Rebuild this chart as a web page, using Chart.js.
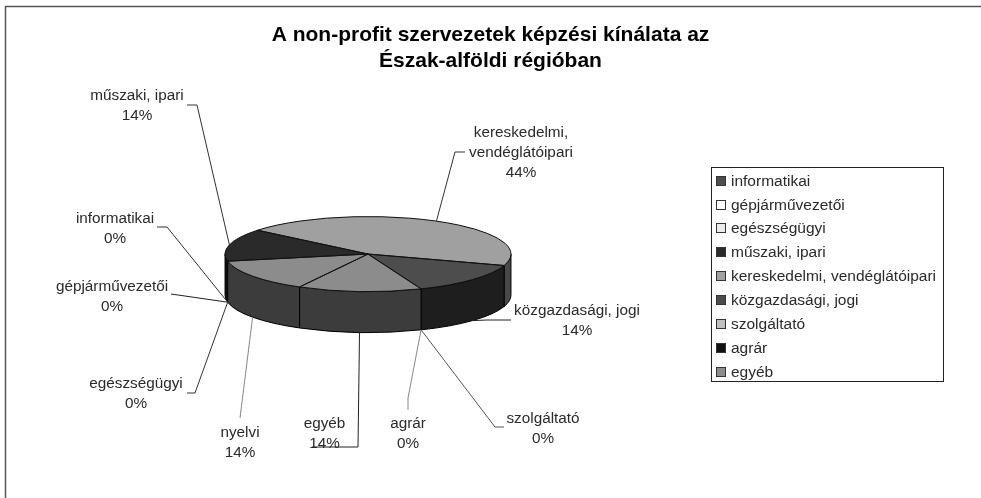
<!DOCTYPE html>
<html><head><meta charset="utf-8">
<style>html,body{margin:0;padding:0;background:#fff}#w{position:relative;width:981px;height:498px}canvas{display:block}</style>
<script src="https://cdn.jsdelivr.net/npm/chart.js@4"></script></head>
<body><div id="w"><canvas id="c" width="981" height="498"></canvas></div>
<script>
const titleLines = ["A non-profit szervezetek képzési kínálata az", "Észak-alföldi régióban"];
const categories = ["informatikai","gépjárművezetői","egészségügyi","műszaki, ipari","kereskedelmi, vendéglátóipari","közgazdasági, jogi","szolgáltató","agrár","egyéb","nyelvi"];
const values = [0,0,0,14,44,14,0,0,14,14];
const topColors = ["#4d4d4d","#fbfbfb","#ececec","#2a2a2a","#a0a0a0","#4d4d4d","#c0c0c0","#111111","#8c8c8c","#8c8c8c"];
const sideColors = ["#222222","#6a6a6a","#626262","#111111","#484848","#1e1e1e","#484848","#080808","#3c3c3c","#3c3c3c"];
const legendCount = 9; // the reference legend stops before "nyelvi"

// label placement: text centre, first-line baseline, leader path from text to the rim
const labelLayout = [
 {lines:["informatikai"],x:115,y:223,color:'#333',path:[[157,227],[167,227]]},
 {lines:["gépjárművezetői"],x:112,y:290.5,color:'#222',path:[[171,294]]},
 {lines:["egészségügyi"],x:136,y:388,color:'#333',path:[[187,393],[195,393]]},
 {lines:["műszaki, ipari"],x:137,y:100,color:'#333',path:[[187,105],[197,105]]},
 {lines:["kereskedelmi,","vendéglátóipari"],x:521,y:137,color:'#333',path:[[465,152],[455,152]]},
 {lines:["közgazdasági, jogi"],x:577,y:315,color:'#222',path:[[511,320],[487,320]]},
 {lines:["szolgáltató"],x:543,y:423,color:'#555',path:[[504,427],[495,427]]},
 {lines:["agrár"],x:408,y:428,color:'#888',path:[[408,410],[408,398]]},
 {lines:["egyéb"],x:324.5,y:428,color:'#222',path:[[312,447],[358,447]]},
 {lines:["nyelvi"],x:240,y:436.5,color:'#888',path:[[240,418]]}
];
const DEPTH = 41, SQUASH = 37.5/143;
const LABEL_FONT = '15.3px "Liberation Sans", Arial, sans-serif';
const LEGEND_FONT = '15.5px "Liberation Sans", Arial, sans-serif';
const TEXT_COLOR = '#2a2a2a';

const pie3d = {
 id:'pie3d',
 afterLayout(chart){ const t=chart.titleBlock; t.left=0; t.right=chart.width; },
 beforeDraw(chart){
  const {ctx,width,height}=chart;
  ctx.save(); ctx.fillStyle='#fff'; ctx.fillRect(0,0,width,height);
  ctx.strokeStyle='#555'; ctx.lineWidth=1.5; ctx.beginPath();
  ctx.moveTo(981,6.5); ctx.lineTo(5.5,6.5); ctx.lineTo(5.5,498); ctx.stroke();
  ctx.restore();
 },
 beforeDatasetsDraw(chart){
  const {ctx}=chart, arcs=chart.getDatasetMeta(0).data;
  const a0=arcs[0], cx=a0.x, cy=a0.y, r=a0.outerRadius, ry=r*SQUASH;
  // side wall: the visible front half of each slice, lowered by the depth
  arcs.forEach((arc,i)=>{
   if(arc.circumference<=0) return;
   [[arc.startAngle,arc.endAngle],[arc.startAngle-2*Math.PI,arc.endAngle-2*Math.PI],[arc.startAngle+2*Math.PI,arc.endAngle+2*Math.PI]].forEach(([s,e])=>{
    const a=Math.max(s,0), b=Math.min(e,Math.PI);
    if(b<=a) return;
    ctx.save(); ctx.beginPath();
    ctx.ellipse(cx,cy,r,ry,0,a,b);
    ctx.lineTo(cx+r*Math.cos(b),cy+ry*Math.sin(b)+DEPTH);
    ctx.ellipse(cx,cy+DEPTH,r,ry,0,b,a,true);
    ctx.closePath();
    ctx.fillStyle=sideColors[i]; ctx.fill();
    ctx.strokeStyle='#000'; ctx.lineWidth=1; ctx.stroke(); ctx.restore();
   });
  });
  ctx.save();
  ctx.translate(0,cy); ctx.scale(1,SQUASH); ctx.translate(0,-cy);
 },
 afterDatasetsDraw(chart){
  const {ctx}=chart, arcs=chart.getDatasetMeta(0).data;
  ctx.restore();
  const a0=arcs[0], cx=a0.x, cy=a0.y, r=a0.outerRadius, ry=r*SQUASH;
  arcs.forEach(arc=>{
   if(arc.circumference<=0) return;
   ctx.save(); ctx.beginPath();
   ctx.moveTo(cx,cy);
   ctx.ellipse(cx,cy,r,ry,0,arc.startAngle,arc.endAngle);
   ctx.closePath();
   ctx.strokeStyle='#111'; ctx.lineWidth=1; ctx.stroke(); ctx.restore();
  });
  // leader lines and labels
  ctx.save();
  arcs.forEach((arc,i)=>{
   const m=(arc.startAngle+arc.endAngle)/2, L=labelLayout[i];
   let ax=cx+r*Math.cos(m), ay=cy+ry*Math.sin(m);
   if(Math.sin(m)>0) ay+=DEPTH;
   ctx.beginPath();
   L.path.forEach((p,k)=>k?ctx.lineTo(p[0],p[1]):ctx.moveTo(p[0],p[1]));
   ctx.lineTo(ax,ay);
   ctx.strokeStyle=L.color; ctx.lineWidth=1; ctx.stroke();
   ctx.font=LABEL_FONT; ctx.fillStyle=TEXT_COLOR; ctx.textAlign='center'; ctx.textBaseline='alphabetic';
   const pct=Math.round(values[i]/values.reduce((s,v)=>s+v,0)*100)+'%';
   [...L.lines,pct].forEach((t,k)=>ctx.fillText(t,L.x,L.y+k*20));
  });
  // legend box
  const lx=711.5, ly=167.5, lw=232, lh=214, rowH=23.9;
  ctx.fillStyle='#fff'; ctx.fillRect(lx,ly,lw,lh);
  ctx.strokeStyle='#222'; ctx.lineWidth=1; ctx.strokeRect(lx,ly,lw,lh);
  for(let i=0;i<legendCount;i++){
   const base=185.6+i*rowH, my=Math.round(base-9);
   ctx.fillStyle=topColors[i]; ctx.fillRect(717,my,8,8);
   ctx.strokeStyle='#333'; ctx.strokeRect(716.5,my-0.5,9,9);
   ctx.font=LEGEND_FONT; ctx.fillStyle=TEXT_COLOR; ctx.textAlign='left'; ctx.textBaseline='alphabetic';
   ctx.fillText(categories[i],731,base);
  }
  ctx.restore();
 }
};

new Chart(document.getElementById('c'),{
 type:'pie',
 data:{labels:categories,datasets:[{data:values,backgroundColor:topColors,borderWidth:0,clip:false}]},
 plugins:[pie3d],
 options:{
  responsive:false,animation:false,rotation:259,
  layout:{padding:{left:225,right:470,top:0,bottom:101}},
  plugins:{
   legend:{display:false},tooltip:{enabled:false},
   title:{display:true,text:titleLines,color:'#000',
    font:{family:'"Liberation Sans", Arial, sans-serif',size:21,weight:'bold',lineHeight:1.24},
    padding:{top:22,bottom:37}}
  }
 }
});
</script></body></html>
